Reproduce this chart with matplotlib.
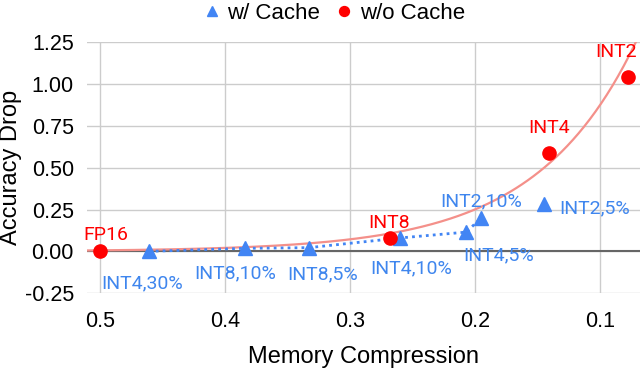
import numpy as np
import matplotlib
matplotlib.use("Agg")
import matplotlib.pyplot as plt

plt.rcParams['axes.unicode_minus'] = False

# w/o cache (red circles)
wo_labels = ['FP16', 'INT8', 'INT4', 'INT2']
wo_x = [0.5, 0.268, 0.141, 0.078]
wo_y = [0.0, 0.08, 0.59, 1.04]

# w/ cache (blue triangles)
w_labels = ['INT4,30%', 'INT8,10%', 'INT8,5%', 'INT4,10%', 'INT4,5%', 'INT2,10%', 'INT2,5%']
w_x = [0.461, 0.384, 0.333, 0.260, 0.207, 0.195, 0.145]
w_y = [0.0, 0.018, 0.022, 0.08, 0.115, 0.20, 0.28]

# exponential trendline: y = a * exp(b * x)
trend_a = 3.05
trend_b = -12.5

red = '#ff0000'
blue = '#4285f4'
label_blue = '#3f86ee'

fig = plt.figure(figsize=(6.4, 3.73), dpi=100)
ax = fig.add_axes([0.136, 0.214, 0.864, 0.673])

ax.axhline(0, color='#666666', lw=1.5, zorder=1)

xs = np.linspace(0.51, 0.06, 300)
ax.plot(xs, trend_a * np.exp(trend_b * xs), color='#f4908a', lw=1.6, zorder=2)

# dotted connector between the w/ cache points (except the last)
ax.plot(w_x[:6], w_y[:6], color=blue, ls=(0, (1, 1.5)), lw=2, zorder=3)

ax.plot(w_x, w_y, '^', color=blue, ms=10, ls='none', zorder=4, label='w/ Cache')
ax.plot(wo_x, wo_y, 'o', color=red, ms=9.5, ls='none', zorder=5, label='w/o Cache')

lab_font = dict(family='Roboto', fontsize=14)
wo_off = [(4, 12), (-1, 11), (0, 18), (-8, 18)]
for t, x, y, o in zip(wo_labels, wo_x, wo_y, wo_off):
    ax.annotate(t, (x, y), xytext=o, textcoords='offset points',
                ha='center', va='center', color=red, annotation_clip=False, **lab_font)

w_off = [(-5, -23), (-7, -18), (10, -19), (8, -22), (23, -17), (0, 12), (11, -3)]
w_ha = ['center', 'center', 'center', 'center', 'center', 'center', 'left']
for t, x, y, o, h in zip(w_labels, w_x, w_y, w_off, w_ha):
    ax.annotate(t, (x, y), xytext=o, textcoords='offset points',
                ha=h, va='center', color=label_blue, annotation_clip=False, **lab_font)

ax.set_xlim(0.5104, 0.068)
ax.set_ylim(-0.25, 1.25)
ax.set_xticks([0.5, 0.4, 0.3, 0.2, 0.1])
ax.set_xticklabels(['0.5', '0.4', '0.3', '0.2', '0.1'])
ax.set_yticks(np.arange(-0.25, 1.26, 0.25))
ax.set_yticklabels(['%.2f' % v for v in np.arange(-0.25, 1.26, 0.25)])
ax.grid(True, color='#cccccc', lw=1)
ax.set_axisbelow(True)
for s in ax.spines.values():
    s.set_visible(False)
ax.tick_params(length=0, labelsize=15.5)
ax.tick_params(axis='x', pad=13)
ax.tick_params(axis='y', pad=9.5)
for lbl in ax.get_xticklabels() + ax.get_yticklabels():
    lbl.set_family('Liberation Sans')

ax.set_xlabel('Memory Compression', family='Liberation Sans', fontsize=17, labelpad=10)
ax.set_ylabel('Accuracy Drop', family='Liberation Sans', fontsize=17)
ax.yaxis.set_label_coords(-0.118, 0.5)

fig.legend(loc='upper center', bbox_to_anchor=(0.52, 1.045), ncol=2, frameon=False,
           prop=dict(family='Liberation Sans', size=16), handletextpad=0.2,
           columnspacing=0.6, handlelength=1, markerscale=0.75)

fig.savefig('out.png', dpi=100)
